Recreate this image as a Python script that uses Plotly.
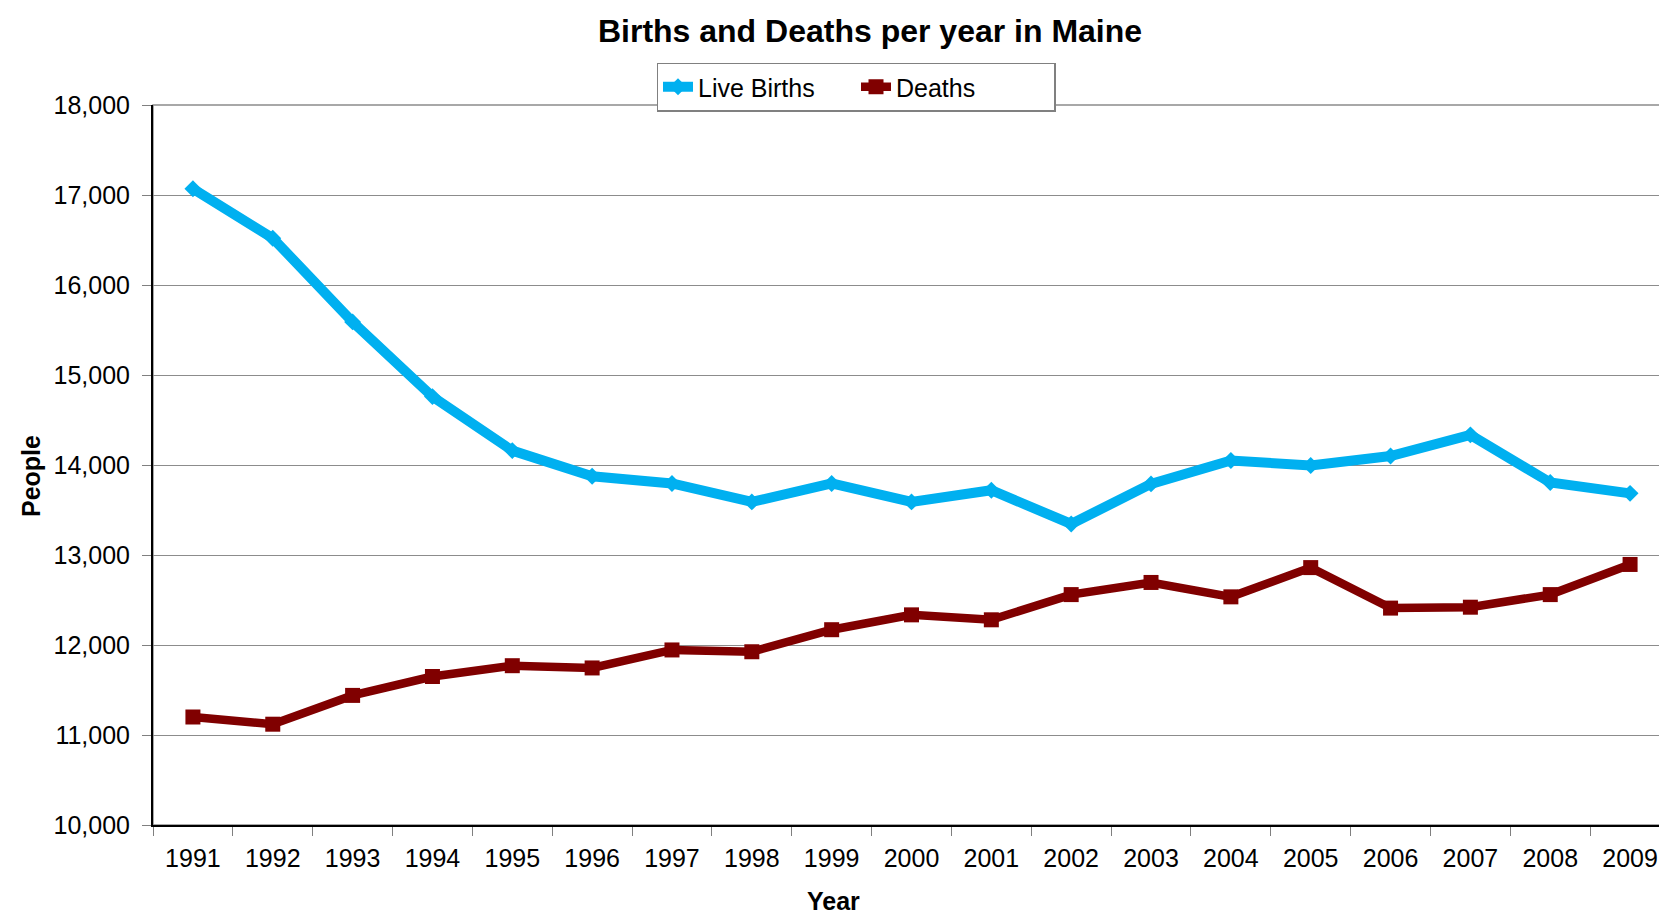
import plotly.graph_objects as go

years = [str(y) for y in range(1991, 2010)]
live_births = [17070, 16520, 15590, 14760, 14160, 13875, 13795, 13590, 13795, 13590,
               13720, 13345, 13790, 14050, 13995, 14100, 14335, 13805, 13685]
deaths = [11200, 11120, 11440, 11650, 11770, 11745, 11945, 11925, 12170, 12335,
          12280, 12560, 12695, 12535, 12860, 12410, 12420, 12560, 12895]

FONT = "Liberation Sans, Arial, sans-serif"

fig = go.Figure()
fig.add_trace(go.Scatter(
    x=years, y=live_births, name="Live Births", mode="lines+markers",
    line=dict(color="#00B0F0", width=10),
    marker=dict(symbol="diamond", size=13, color="#00B0F0"),
))
fig.add_trace(go.Scatter(
    x=years, y=deaths, name="Deaths", mode="lines+markers",
    line=dict(color="#800000", width=8.5),
    marker=dict(symbol="square", size=15, color="#800000"),
))

L, R, T, B = 145, 1662, 97, 817
W, H = 1667, 912
PW, PH = R - L, B - T

fig.update_layout(
    width=W, height=H,
    margin=dict(l=L, r=W - R, t=T, b=H - B, pad=0, autoexpand=False),
    paper_bgcolor="white", plot_bgcolor="white",
    font=dict(family=FONT, size=25, color="black"),
    title=dict(text="<b>Births and Deaths per year in Maine</b>", x=862 / W, xref="container",
               xanchor="center", y=1 - 23 / H, yref="container", yanchor="middle",
               font=dict(size=32, family=FONT)),
    showlegend=True,
    legend=dict(orientation="h", x=(848 - L) / PW, xref="paper", xanchor="center",
                y=1 - 79 / H, yref="container", yanchor="middle",
                bgcolor="white", bordercolor="#808080", borderwidth=1.5,
                font=dict(size=25, family=FONT), itemwidth=30,
                entrywidth=153, tracegroupgap=0),
    xaxis=dict(type="category", range=[-0.5, len(years) - 0.5], tickson="boundaries",
               ticks="outside", ticklen=9, tickcolor="#808080", showline=True,
               linecolor="black", linewidth=2, showgrid=False, tickfont=dict(size=25),
               ticklabelstandoff=10),
    yaxis=dict(range=[10000, 18000], dtick=1000, tickformat=",", ticks="outside",
               ticklen=9, tickcolor="#808080", showline=True, linecolor="black",
               linewidth=2, showgrid=True, gridcolor="#8c8c8c", gridwidth=1.2,
               zeroline=False, tickfont=dict(size=25), ticklabelstandoff=7),
    shapes=[dict(type="rect", xref="paper", yref="paper", x0=0, x1=1, y0=0, y1=1,
                 line=dict(color="#8c8c8c", width=1.5), layer="below")],
    annotations=[
        dict(text="<b>People</b>", x=(23 - L) / PW, y=(B - 468) / PH, xref="paper", yref="paper",
             xanchor="center", yanchor="middle", textangle=-90, showarrow=False,
             font=dict(size=25, family=FONT)),
        dict(text="<b>Year</b>", x=(825 - L) / PW, y=(B - 893) / PH, xref="paper", yref="paper",
             xanchor="center", yanchor="middle", showarrow=False,
             font=dict(size=25, family=FONT)),
    ],
)

fig.write_html("out.html")
